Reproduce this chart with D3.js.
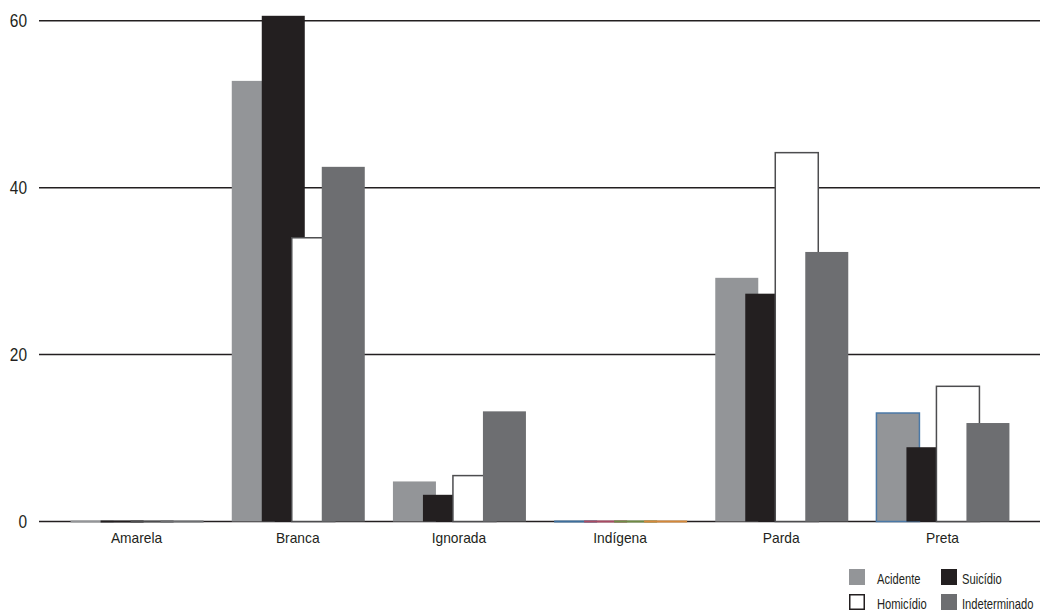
<!DOCTYPE html>
<html><head><meta charset="utf-8">
<script src="https://cdn.jsdelivr.net/npm/d3@7/dist/d3.min.js"></script>
<style>
html,body{margin:0;padding:0;background:#fff;}
text{font-family:"Liberation Sans",Arial,sans-serif;fill:#231f20;}
</style></head><body>
<svg id="c" width="1042" height="613"></svg>
<script>
const categories = ["Amarela","Branca","Ignorada","Indígena","Parda","Preta"];
const series = ["Acidente","Suicídio","Homicídio","Indeterminado"];
const acidente      = [0.1, 52.8, 4.8, 0, 29.2, 13.0];
const suicidio      = [0.1, 60.6, 3.2, 0, 27.3, 8.9];
const homicidio     = [0.1, 34.0, 5.5, 0, 44.2, 16.2];
const indeterminado = [0.1, 42.5, 13.2, 0, 32.3, 11.8];
const yTicks = [0, 20, 40, 60];

const values = [acidente, suicidio, homicidio, indeterminado];
const fills = ["#939598", "#231f20", "#ffffff", "#6d6e71"];
const strokes = ["#939598", "#231f20", "#4d4d4f", "#6d6e71"];
const indigenaStrokes = ["#3d6e9c", "#a84b63", "#6f8a45", "#d4883a"];

const svg = d3.select("#c");
const y = d3.scaleLinear().domain([0, 60]).range([521.5, 20.8]);
const x0 = d3.scaleBand().domain(categories).range([56, 1023]).padding(0);
const x1 = d3.scaleBand().domain(series).range([14.6, 134.6]).padding(0);
const bw = 43;

// gridlines
svg.append("g").selectAll("line").data(yTicks).join("line")
  .attr("x1", 39).attr("x2", 1040)
  .attr("y1", d => y(d)).attr("y2", d => y(d))
  .attr("stroke", "#231f20").attr("stroke-width", 1.5);

// y tick labels
svg.append("g").selectAll("text").data(yTicks).join("text")
  .attr("transform", d => `translate(27,${y(d)}) scale(0.86,1)`)
  .attr("dy", "0.36em").attr("text-anchor", "end")
  .attr("font-size", 18).text(d => d);

// bars
const g = svg.append("g");
series.forEach((s, si) => {
  categories.forEach((c, ci) => {
    const v = values[si][ci];
    let stroke = strokes[si];
    if (c === "Indígena") stroke = indigenaStrokes[si];
    if (c === "Preta" && si === 0) stroke = "#4a78a6";
    const top = y(v), h = y(0) - top;
    if (h < 2) {
      // near-zero bar: drawn as a thin stroke on the baseline
      g.append("rect")
        .attr("x", x0(c) + x1(s))
        .attr("y", y(0) - 1)
        .attr("width", bw)
        .attr("height", 2)
        .attr("fill", stroke);
      return;
    }
    g.append("rect")
      .attr("x", x0(c) + x1(s))
      .attr("y", top)
      .attr("width", bw)
      .attr("height", h)
      .attr("fill", fills[si])
      .attr("stroke", stroke)
      .attr("stroke-width", (si === 2 || (c === "Preta" && si === 0)) ? 1.5 : 0);
  });
});

// category labels
svg.append("g").selectAll("text").data(categories).join("text")
  .attr("transform", d => `translate(${x0(d) + x0.bandwidth() / 2},543) scale(0.92,1)`)
  .attr("text-anchor", "middle")
  .attr("font-size", 15)
  .text(d => d);

// legend
const legend = [
  {name: "Acidente", i: 0, x: 849, y: 569, tx: 877},
  {name: "Suicídio", i: 1, x: 941, y: 569, tx: 962},
  {name: "Homicídio", i: 2, x: 849, y: 594, tx: 877},
  {name: "Indeterminado", i: 3, x: 941, y: 594, tx: 962}
];
const lg = svg.append("g").selectAll("g").data(legend).join("g");
lg.append("rect")
  .attr("x", d => d.i === 2 ? d.x + 0.75 : d.x)
  .attr("y", d => d.i === 2 ? d.y + 0.75 : d.y)
  .attr("width", d => d.i === 2 ? 14.5 : 16)
  .attr("height", d => d.i === 2 ? 14.5 : 16)
  .attr("fill", d => fills[d.i])
  .attr("stroke", d => d.i === 2 ? "#231f20" : "none")
  .attr("stroke-width", 1.5);
lg.append("text")
  .attr("transform", d => `translate(${d.tx},${d.y + 15}) scale(0.8,1)`)
  .attr("font-size", 14)
  .text(d => d.name);
</script>
</body></html>
